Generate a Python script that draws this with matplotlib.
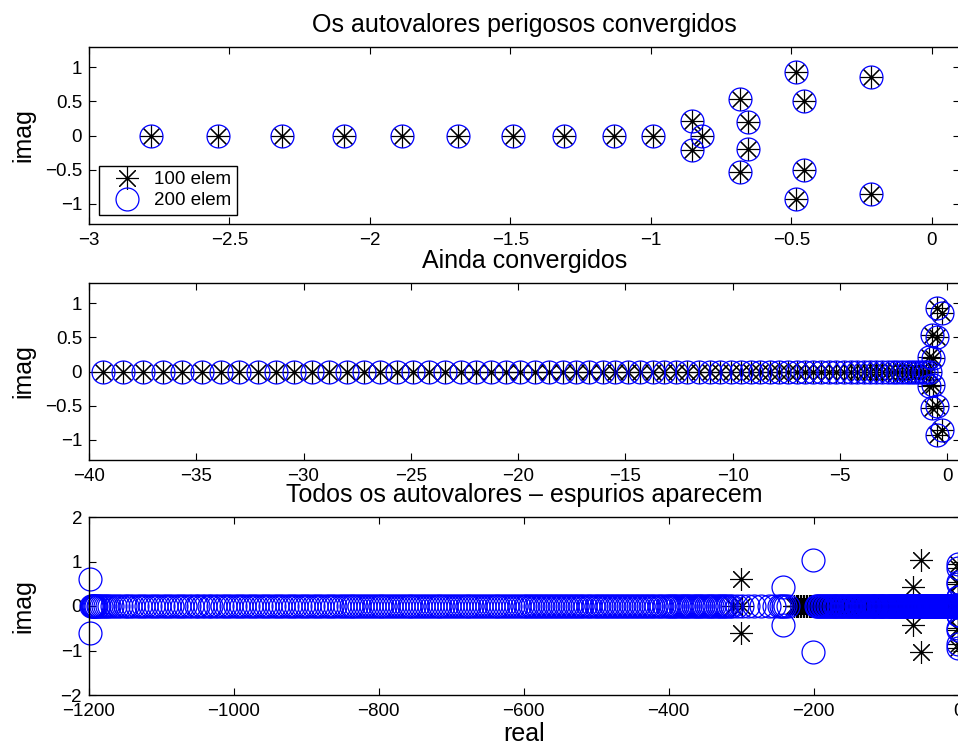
import numpy as np
import matplotlib.pyplot as plt

plt.rcParams['font.family'] = ['Liberation Sans', 'DejaVu Sans']

# autovalores reais convergidos (as duas malhas coincidem aqui)
conv_real = [-0.819, -0.994, -1.133, -1.308, -1.492, -1.685, -1.887, -2.094, -2.314, -2.542,
             -2.779, -3.036, -3.305, -3.585, -3.877, -4.180, -4.494, -4.820, -5.157, -5.506,
             -5.866, -6.238, -6.620, -7.015, -7.420, -7.837, -8.266, -8.706, -9.157, -9.619,
             -10.093, -10.579, -11.076, -11.584, -12.103, -12.635, -13.177, -13.731, -14.296,
             -14.873, -15.461, -16.060, -16.671, -17.293, -17.927, -18.572, -19.228, -19.896,
             -20.575, -21.266, -21.968, -22.681, -23.406, -24.143, -24.890, -25.649, -26.420,
             -27.201, -27.995, -28.799, -29.615, -30.443, -31.282, -32.132, -32.994, -33.867,
             -34.751, -35.647, -36.554, -37.473, -38.403, -39.344]
# pares complexos convergidos (parte imag positiva, o conjugado tambem entra)
pair_real = [-0.853, -0.684, -0.654, -0.485, -0.457, -0.216]
pair_imag = [0.21, 0.54, 0.20, 0.94, 0.50, 0.86]
# faixa densa -40 .. -200 (as duas malhas)
mid_band = [-40.3, -41.3, -42.3, -43.3, -44.3, -45.3, -46.4, -47.4, -48.5, -49.5, -50.6, -51.7,
            -52.8, -53.9, -55.0, -56.1, -57.2, -58.4, -59.5, -60.7, -61.9, -63.1, -64.3, -65.5,
            -66.7, -67.9, -69.2, -70.4, -71.7, -73.0, -74.3, -75.6, -76.9, -78.2, -79.5, -80.9,
            -82.2, -83.6, -85.0, -86.4, -87.8, -89.2, -90.6, -92.0, -93.5, -94.9, -96.4, -97.9,
            -99.4, -100.9, -102.4, -103.9, -105.4, -107.0, -108.5, -110.1, -111.7, -113.3,
            -114.9, -116.5, -118.1, -119.8, -121.4, -123.1, -124.8, -126.5, -128.2, -129.9,
            -131.6, -133.3, -135.1, -136.8, -138.6, -140.4, -142.2, -144.0, -145.8, -147.6,
            -149.5, -151.3, -153.2, -155.1, -157.0, -158.9, -160.8, -162.7, -164.6, -166.6,
            -168.5, -170.5, -172.5, -174.5, -176.5, -178.5, -180.5, -182.6, -184.6, -186.7,
            -188.8, -190.9, -193.0, -195.1, -197.2]

# 100 elem: extras (fim do espectro e espurios)
real100_axis = [-199, -201, -203, -205, -207, -209, -211, -213, -215, -217, -219, -221,
                -223, -225, -227, -299, -311]
pair100_real = [-300.0, -51.5, -63.0]
pair100_imag = [0.60, 1.04, 0.42]

# 200 elem: extras
real200_axis = [-236, -239, -242, -245, -248, -254, -262, -272, -282, -291, -299, -306, -312,
                -316, -319, -322, -325, -328, -331, -334, -337, -340, -343, -346, -349, -352,
                -355, -358, -361, -364, -367, -370, -373, -376, -379, -382, -385, -388, -391,
                -394, -397, -400, -403, -407, -410, -414, -417, -421, -424, -428, -431, -435,
                -438, -442, -445, -449, -452, -456, -459, -463, -466, -470, -473, -477, -480,
                -484, -487, -491, -494, -498, -501, -505, -508, -512, -515, -519, -522, -526,
                -529, -533, -536, -540, -543, -547, -550, -554, -557, -561, -564, -568, -571,
                -575, -578, -582, -585, -589, -592, -596, -599, -603, -607, -611, -615, -619,
                -623, -627, -631, -635, -639, -643, -647, -651, -655, -659, -663, -667, -671,
                -675, -679, -683, -687, -691, -695, -699, -703, -707, -711, -715, -719, -723,
                -727, -731, -735, -739, -743, -747, -751, -755, -759, -763, -767, -771, -775,
                -779, -783, -787, -791, -795, -799, -803, -807, -811, -815, -819, -823, -827,
                -831, -835, -839, -843, -847, -851, -855, -860, -864, -869, -873, -878, -882,
                -887, -891, -896, -900, -905, -909, -914, -918, -923, -927, -932, -936, -941,
                -945, -950, -954, -959, -963, -968, -972, -977, -981, -986, -990, -995, -999,
                -1004, -1008, -1013, -1017, -1022, -1026, -1031, -1035, -1040, -1044, -1049,
                -1053, -1058, -1062, -1067, -1071, -1076, -1080, -1085, -1089, -1094, -1098,
                -1103, -1107, -1112, -1116, -1121, -1125, -1130, -1134, -1139, -1143, -1147,
                -1151, -1156, -1160, -1164, -1168, -1172, -1175, -1178, -1181, -1184, -1186,
                -1188, -1190, -1192, -1193, -1194, -1195, -1196, -1197]
pair200_real = [-201.0, -242.0, -1199.0]
pair200_imag = [1.04, 0.42, 0.60]


def montar(axis_lists, preal, pimag):
    re = np.concatenate(axis_lists + [preal, preal])
    n0 = sum(len(a) for a in axis_lists)
    im = np.concatenate([np.zeros(n0), pimag, -np.array(pimag)])
    return re, im


re100, im100 = montar([conv_real, mid_band, real100_axis], pair_real + pair100_real,
                      pair_imag + pair100_imag)
re200, im200 = montar([conv_real, mid_band, real200_axis], pair_real + pair200_real,
                      pair_imag + pair200_imag)

fig = plt.figure(figsize=(9.58, 7.46), dpi=100)
W, H = 958.0, 746.0
left, right = 89 / W, 960 / W
boxes = [(47, 224), (283, 460), (517, 695)]
titles = ['Os autovalores perigosos convergidos', 'Ainda convergidos',
          'Todos os autovalores \u2013 espurios aparecem']
xlims = [(-3, 0.1), (-40, 0.6), (-1200, 2)]
ylims = [(-1.3, 1.3), (-1.3, 1.3), (-2, 2)]
xticks = [np.arange(-3, 0.01, 0.5), np.arange(-40, 0.1, 5), np.arange(-1200, 1, 200)]
yticks = [[-1, -0.5, 0, 0.5, 1], [-1, -0.5, 0, 0.5, 1], [-2, -1, 0, 1, 2]]
ytlab = [['\u22121', '\u22120.5', '0', '0.5', '1'], ['\u22121', '\u22120.5', '0', '0.5', '1'],
         ['\u22122', '\u22121', '0', '1', '2']]

axes = []
for i, (t, b) in enumerate(boxes):
    ax = fig.add_axes([left, 1 - b / H, right - left, (b - t) / H])
    x0, x1 = xlims[i]
    # como no matlab: so desenha o marcador se o centro esta dentro dos eixos
    k1 = (re100 >= x0) & (re100 <= x1)
    k2 = (re200 >= x0) & (re200 <= x1)
    ax.plot(re100[k1], im100[k1], ls='none', marker=(8, 2, 0), ms=16.5, mec='k', mfc='none',
            mew=0.8, label='100 elem', clip_on=False)
    ax.plot(re200[k2], im200[k2], ls='none', marker='o', ms=16.5, mec='b', mfc='none',
            mew=0.9, label='200 elem', clip_on=False)
    ax.set_xlim(xlims[i])
    ax.set_ylim(ylims[i])
    ax.set_xticks(xticks[i])
    ax.set_xticklabels([('%g' % v).replace('-', '\u2212') for v in xticks[i]])
    ax.set_yticks(yticks[i])
    ax.set_yticklabels(ytlab[i])
    ax.tick_params(direction='in', top=True, right=True, length=5, width=0.8,
                   labelsize=13.5)
    ax.tick_params(axis='x', pad=6)
    ax.tick_params(axis='y', pad=5)
    for s in ax.spines.values():
        s.set_linewidth(1.0)
    ax.set_title(titles[i], fontsize=18, pad=11)
    ax.set_ylabel('imag', fontsize=18)
    ax.yaxis.set_label_coords(-0.062, 0.5)
    axes.append(ax)

axes[2].set_xlabel('real', fontsize=18)
axes[2].xaxis.set_label_coords(0.5, -0.15)

leg = axes[0].legend(loc='lower left', bbox_to_anchor=(0.0115, 0.051), borderaxespad=0,
                     fontsize=13.5, fancybox=False, edgecolor='k', framealpha=1,
                     handlelength=2.4, handletextpad=0.25, labelspacing=0.2,
                     borderpad=0.3)
leg.get_frame().set_linewidth(1.0)

fig.savefig('out.png', dpi=100)
